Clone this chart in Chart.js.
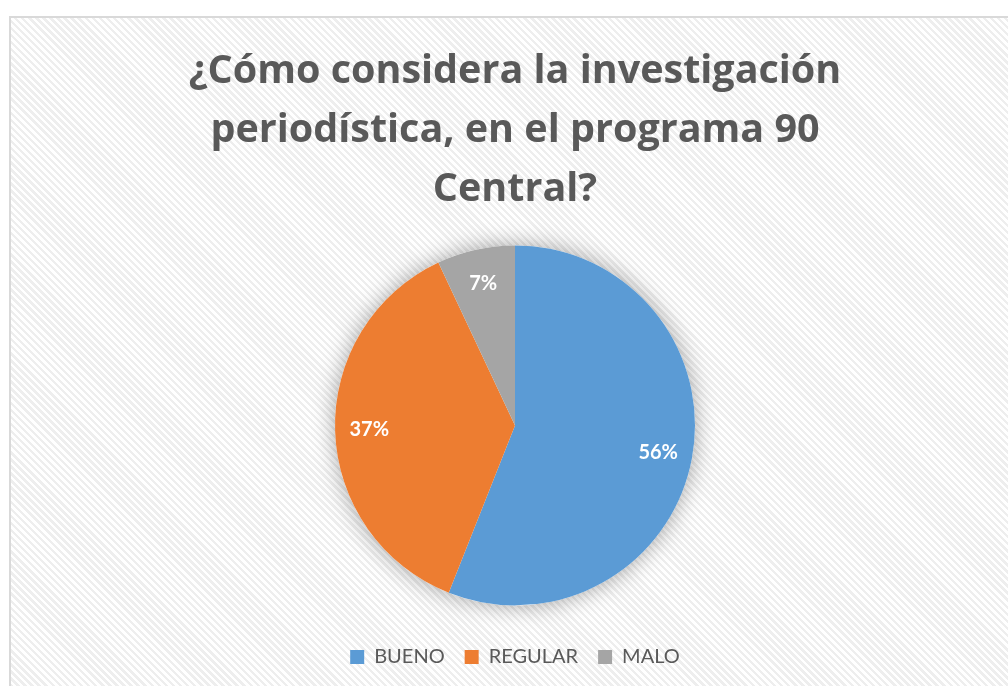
<!DOCTYPE html>
<html>
<head>
<meta charset="utf-8">
<script src="https://cdn.jsdelivr.net/npm/chart.js@4"></script>
<style>
  body { margin: 0; background: #fff; width: 1008px; height: 686px; overflow: hidden; position: relative; }
  #marco {
    position: absolute; left: 9px; top: 16px; width: 1010px; height: 680px;
    border: 2px solid #d9d9d9;
    background: repeating-linear-gradient(45deg, #ffffff 0px, #ffffff 2.5px, #eeeeee 2.5px, #eeeeee 5px);
  }
  #contenedor { position: absolute; left: 0; top: 0; width: 1008px; height: 686px; }
</style>
</head>
<body>
<div id="marco"></div>
<div id="contenedor"><canvas id="grafico"></canvas></div>
<script>
// datos
var categorias = ['BUENO', 'REGULAR', 'MALO'];
var porcentajes = [56, 37, 7];
var colores = ['#5B9BD5', '#ED7D31', '#A5A5A5'];
var titulo = ['¿Cómo considera la investigación', 'periodística, en el programa 90', 'Central?'];

// sombra suave alrededor de la torta
var sombra = {
  id: 'sombra',
  beforeDatasetsDraw: function(chart) {
    var arco = chart.getDatasetMeta(0).data[0];
    if (!arco) return;
    var ctx = chart.ctx;
    ctx.save();
    ctx.shadowColor = 'rgba(0,0,0,0.35)';
    ctx.shadowBlur = 22;
    ctx.fillStyle = '#ffffff';
    ctx.beginPath();
    ctx.arc(arco.x, arco.y, arco.outerRadius, 0, Math.PI * 2);
    ctx.fill();
    ctx.restore();
  }
};

// etiquetas de porcentaje dentro de cada porcion
var etiquetas = {
  id: 'etiquetas',
  afterDatasetsDraw: function(chart) {
    var ctx = chart.ctx;
    var meta = chart.getDatasetMeta(0);
    ctx.save();
    ctx.fillStyle = '#ffffff';
    ctx.font = 'bold 20px Lato';
    ctx.textAlign = 'center';
    ctx.textBaseline = 'middle';
    meta.data.forEach(function(arco, i) {
      var medio = (arco.startAngle + arco.endAngle) / 2;
      var r = arco.outerRadius * 0.81;
      ctx.fillText(porcentajes[i] + '%', arco.x + Math.cos(medio) * r, arco.y + Math.sin(medio) * r);
    });
    ctx.restore();
  }
};

var ctx = document.getElementById('grafico').getContext('2d');
var miGrafico = new Chart(ctx, {
  type: 'pie',
  data: {
    labels: categorias,
    datasets: [{
      data: porcentajes,
      backgroundColor: colores,
      borderWidth: 0,
      radius: 180
    }]
  },
  options: {
    responsive: true,
    maintainAspectRatio: false,
    animation: false,
    layout: { padding: { left: 22, right: 0, top: 0, bottom: 9 } },
    plugins: {
      title: {
        display: true,
        text: titulo,
        color: '#595959',
        font: { family: 'Open Sans', size: 39.5, weight: 'bold', lineHeight: 1.5 },
        padding: { top: 42, bottom: 4 }
      },
      legend: {
        position: 'bottom',
        labels: {
          color: '#595959',
          font: { family: 'Lato', size: 20 },
          boxWidth: 14,
          boxHeight: 14,
          padding: 20
        }
      },
      tooltip: { enabled: false }
    }
  },
  plugins: [sombra, etiquetas]
});
</script>
</body>
</html>
